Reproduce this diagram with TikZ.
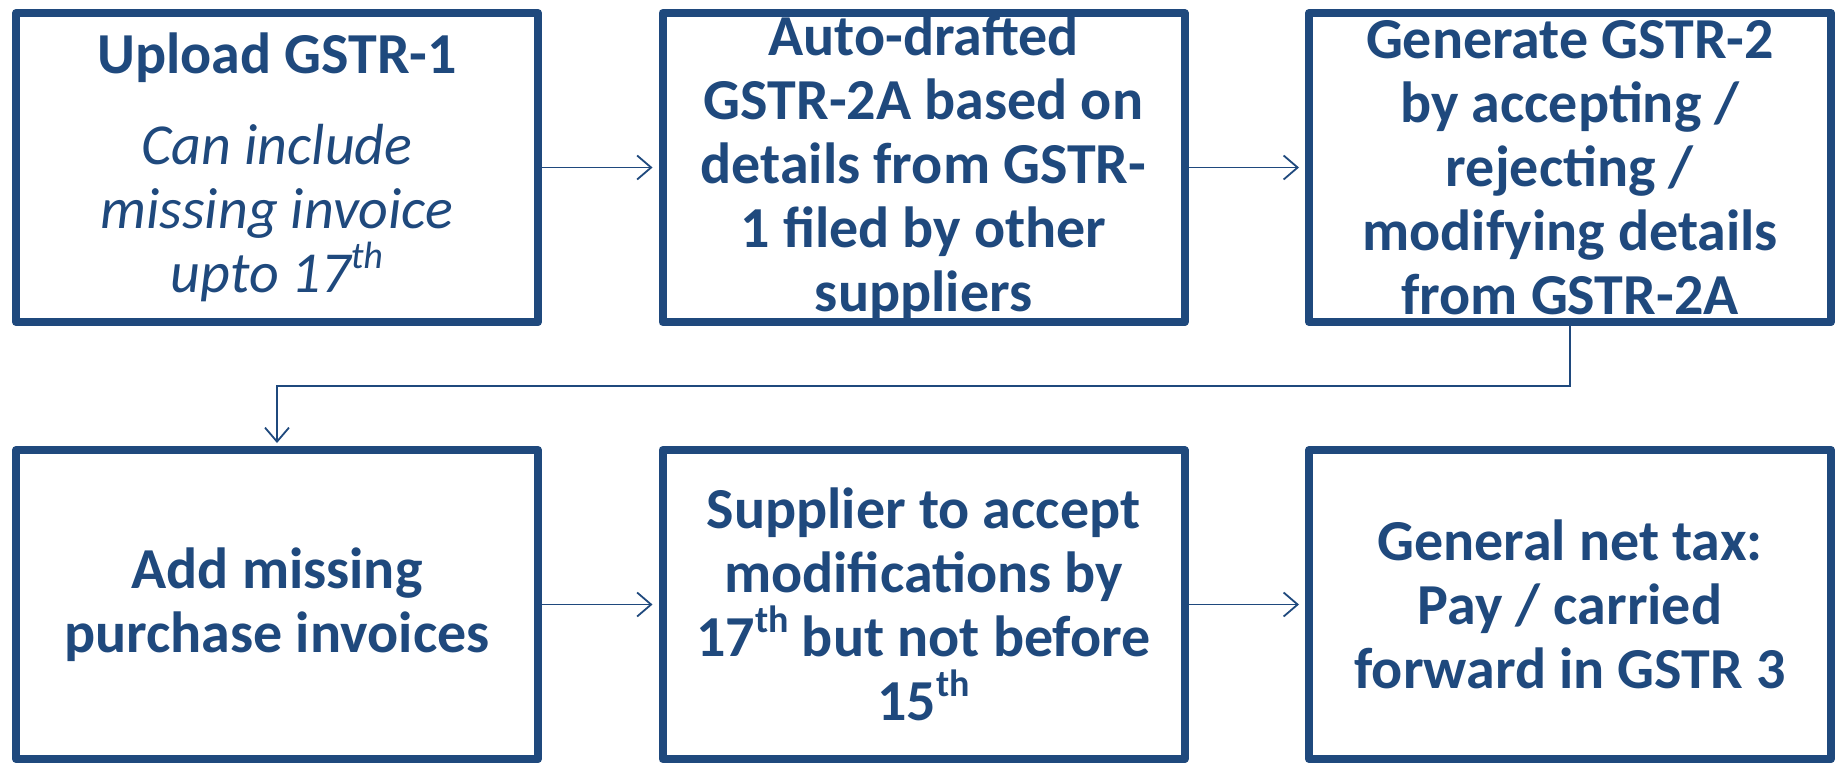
\documentclass[tikz,border=0pt]{standalone}
\usepackage{fontspec}
\setmainfont{Carlito}
\usetikzlibrary{arrows.meta,shadows}
\definecolor{navy}{HTML}{1F497D}
\newcommand\supth{\raisebox{0.42em}{\fontsize{38}{38}\selectfont th}}
\begin{document}
\begin{tikzpicture}[x=1pt,y=-1pt,
  box/.style={draw=navy, line width=8pt, line join=round, fill=white, minimum width=522pt, minimum height=309pt,
    align=center, text=navy, font=\fontsize{58}{64}\selectfont\bfseries, inner sep=0pt,
    drop shadow={opacity=0.25, shadow xshift=2pt, shadow yshift=-4pt}},
  conn/.style={draw=navy, line width=1.8pt, -{Straight Barb[length=14pt,width=24pt]}, shorten >=6pt}
]
\useasboundingbox (0,0) rectangle (1839,764);
\node[box] (b1) at (277,167.5) {Upload GSTR-1\\[27pt] \mdseries\itshape Can include\\ \mdseries\itshape missing invoice\\ \mdseries\itshape upto 17\supth};
\node[box] (b2) at (923.5,167.5) {Auto-drafted\\ GSTR-2A based on\\ details from GSTR-\\ 1 filed by other\\ suppliers};
\node[box] (b3) at (1570,167.5) {Generate GSTR-2\\ by accepting /\\ rejecting /\\ modifying details\\ from GSTR-2A};
\node[box] (b4) at (277,604.5) {Add missing\\ purchase invoices};
\node[box] (b5) at (923.5,604.5) {Supplier to accept\\ modifications by\\ 17\supth{} but not before\\ 15\supth};
\node[box] (b6) at (1570,604.5) {General net tax:\\ Pay / carried\\ forward in GSTR 3};
\coordinate (k) at (277,386);
\draw[conn] (b1.east) -- (b2.west);
\draw[conn] (b2.east) -- (b3.west);
\draw[conn, shorten >=3pt] (b3.south) |- (k) -- (b4.north);
\draw[conn] (b4.east) -- (b5.west);
\draw[conn] (b5.east) -- (b6.west);
\end{tikzpicture}
\end{document}
